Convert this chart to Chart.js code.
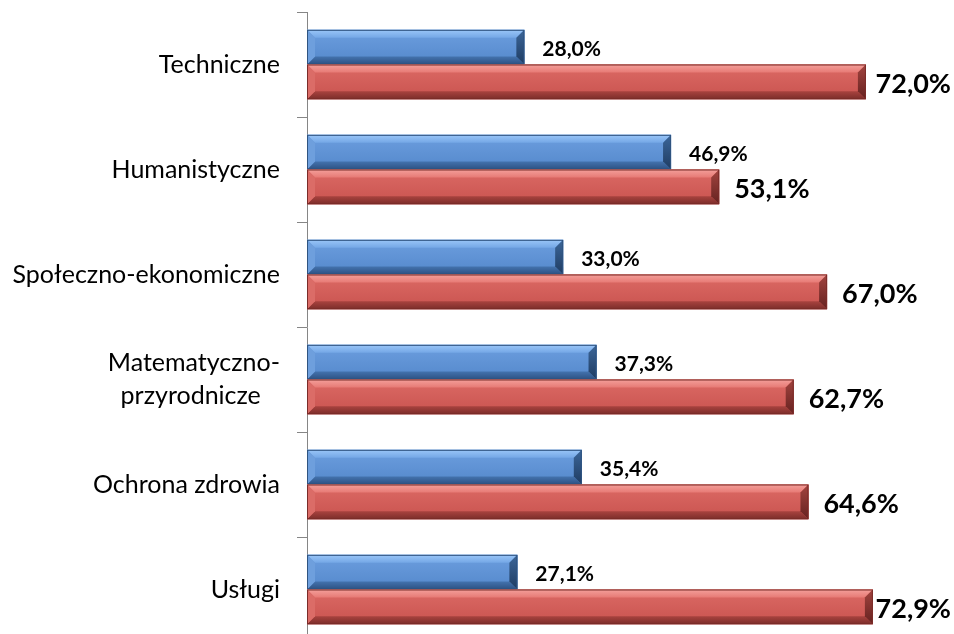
<!DOCTYPE html>
<html><head><meta charset="utf-8">
<script src="https://cdn.jsdelivr.net/npm/chart.js@4"></script>
<style>html,body{margin:0;padding:0;background:#fff;overflow:hidden}#wrap{width:954px;height:650px;position:relative}</style>
</head><body><div id="wrap"><canvas id="c" width="954" height="650"></canvas></div>
<script>
const categories = ["Techniczne", "Humanistyczne", "Społeczno-ekonomiczne", ["Matematyczno-", "przyrodnicze\u00a0\u00a0\u00a0"], "Ochrona zdrowia", "Usługi"];
const blueValues = [28.0, 46.9, 33.0, 37.3, 35.4, 27.1];
const redValues = [72.0, 53.1, 67.0, 62.7, 64.6, 72.9];
const valueLabelsBlue = ["28,0%", "46,9%", "33,0%", "37,3%", "35,4%", "27,1%"];
const valueLabelsRed = ["72,0%", "53,1%", "67,0%", "62,7%", "64,6%", "72,9%"];

const palettes = [
  {face0:'#6C9EDF', face1:'#5488CB', top0:'#9AC6F8', top1:'#74A7E6', bot0:'#4473AE', bot1:'#2C5082', right0:'#3C6699', right1:'#1F3C62', left:'#6E9FDD', edge:'#2F5480'},
  {face0:'#DC6A65', face1:'#C9534F', top0:'#F4A09B', top1:'#E77A75', bot0:'#A9433F', bot1:'#7C2D2A', right0:'#A2443F', right1:'#662220', left:'#DB6C67', edge:'#7A2C29'}
];
const labelSets = [valueLabelsBlue, valueLabelsRed];

function poly(ctx, pts, fill){ctx.beginPath();ctx.moveTo(pts[0][0],pts[0][1]);for(let i=1;i<pts.length;i++)ctx.lineTo(pts[i][0],pts[i][1]);ctx.closePath();ctx.fillStyle=fill;ctx.fill();}

const bevelPlugin = {
  id:'bevel',
  afterDatasetsDraw(chart){
    const ctx = chart.ctx;
    chart.data.datasets.forEach((ds, di)=>{
      const meta = chart.getDatasetMeta(di);
      const p = palettes[di];
      meta.data.forEach((el, i)=>{
        const {x, y, base, height} = el.getProps(['x','y','base','height'], true);
        const x0 = Math.min(base,x), x1 = Math.max(base,x);
        const yt = y - height/2, yb = y + height/2;
        const b = 8;
        ctx.save();
        let g = ctx.createLinearGradient(0,yt,0,yb);
        g.addColorStop(0,p.face0); g.addColorStop(1,p.face1);
        ctx.fillStyle = g; ctx.fillRect(x0,yt,x1-x0,yb-yt);
        g = ctx.createLinearGradient(0,yt,0,yt+b);
        g.addColorStop(0,p.top0); g.addColorStop(1,p.top1);
        poly(ctx,[[x0,yt],[x1,yt],[x1-b,yt+b],[x0+b,yt+b]],g);
        g = ctx.createLinearGradient(0,yb-b,0,yb);
        g.addColorStop(0,p.bot0); g.addColorStop(1,p.bot1);
        poly(ctx,[[x0+b,yb-b],[x1-b,yb-b],[x1,yb],[x0,yb]],g);
        poly(ctx,[[x0,yt],[x0+b,yt+b],[x0+b,yb-b],[x0,yb]],p.left);
        g = ctx.createLinearGradient(0,yt,0,yb);
        g.addColorStop(0,p.right0); g.addColorStop(1,p.right1);
        poly(ctx,[[x1-b,yt+b],[x1,yt],[x1,yb],[x1-b,yb-b]],g);
        ctx.strokeStyle = p.edge; ctx.lineWidth = 1;
        ctx.strokeRect(x0+0.5,yt+0.5,x1-x0-1,yb-yt-1);
        ctx.restore();
        // value labels
        ctx.save();
        ctx.fillStyle = '#000';
        ctx.textBaseline = 'middle';
        const txt = labelSets[di][i];
        if (di === 0) {
          ctx.font = 'bold 21px Lato';
          ctx.fillText(txt, x1 + 18, y + 2);
        } else {
          ctx.font = 'bold 27px Lato';
          const w = ctx.measureText(txt).width;
          ctx.fillText(txt, Math.min(x1 + 15, 951 - w), y + 2);
        }
        ctx.restore();
      });
    });
  }
};

new Chart(document.getElementById('c'), {
  type:'bar',
  data:{
    labels: categories,
    datasets:[
      {data: blueValues, backgroundColor:'#5488CB', borderWidth:0, categoryPercentage:0.66, barPercentage:1},
      {data: redValues, backgroundColor:'#CC5651', borderWidth:0, categoryPercentage:0.66, barPercentage:1}
    ]
  },
  options:{
    indexAxis:'y',
    responsive:false,
    animation:false,
    layout:{padding:{top:12,bottom:8,left:0,right:26}},
    plugins:{legend:{display:false},tooltip:{enabled:false}},
    scales:{
      x:{display:false,min:0,max:80},
      y:{
        afterFit(s){ s.width = 307; s.paddingTop = 0; s.paddingBottom = 0; },
        border:{display:true,color:'#868686',width:1},
        grid:{display:true,drawOnChartArea:false,drawTicks:true,tickLength:10,color:'#868686',offset:true},
        ticks:{color:'#000',padding:17,font:{family:'Lato',size:25,lineHeight:1.35}}
      }
    }
  },
  plugins:[bevelPlugin]
});
</script></body></html>
